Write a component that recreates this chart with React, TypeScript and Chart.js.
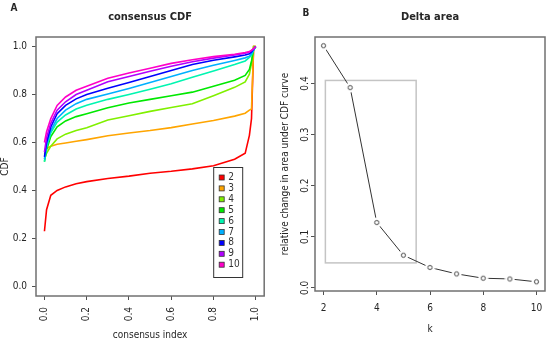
import React, { useEffect, useRef } from 'react';
import { Chart, registerables } from 'chart.js';

Chart.register(...registerables);

const FAMILY = "'Liberation Sans Narrow', 'DejaVu Sans Condensed', 'Liberation Sans', Arial, sans-serif";
const TEXT = '#262626';
const AXIS = '#505050';
const BOX = '#707070';

// ---------- Panel A: consensus CDF ----------
const cdfIndex = [0, 0.01, 0.03, 0.06, 0.1, 0.15, 0.2, 0.3, 0.4, 0.5, 0.6, 0.7, 0.8, 0.9, 0.95, 0.97, 0.98, 0.99, 1.0];
const cdfK2 = [0.23, 0.32, 0.38, 0.40, 0.415, 0.428, 0.437, 0.45, 0.46, 0.472, 0.48, 0.49, 0.503, 0.53, 0.555, 0.63, 0.70, 1.0, 1.0];
const cdfK3 = [0.55, 0.575, 0.585, 0.593, 0.598, 0.605, 0.612, 0.628, 0.64, 0.65, 0.662, 0.677, 0.692, 0.71, 0.722, 0.735, 0.74, 1.0, 1.0];
const cdfK4 = [0.53, 0.555, 0.585, 0.615, 0.635, 0.65, 0.662, 0.694, 0.712, 0.73, 0.746, 0.762, 0.795, 0.83, 0.853, 0.885, 0.93, 1.0, 1.0];
const cdfK5 = [0.52, 0.57, 0.625, 0.665, 0.69, 0.708, 0.72, 0.745, 0.765, 0.78, 0.795, 0.81, 0.835, 0.86, 0.88, 0.905, 0.94, 0.99, 1.0];
const cdfK6 = [0.52, 0.58, 0.64, 0.685, 0.715, 0.74, 0.755, 0.78, 0.80, 0.822, 0.845, 0.872, 0.898, 0.925, 0.94, 0.955, 0.965, 0.985, 1.0];
const cdfK7 = [0.53, 0.59, 0.65, 0.70, 0.735, 0.762, 0.78, 0.802, 0.825, 0.85, 0.875, 0.9, 0.922, 0.942, 0.953, 0.96, 0.97, 0.985, 1.0];
const cdfK8 = [0.54, 0.60, 0.665, 0.72, 0.755, 0.782, 0.80, 0.826, 0.85, 0.875, 0.9, 0.925, 0.943, 0.957, 0.965, 0.97, 0.978, 0.99, 1.0];
const cdfK9 = [0.56, 0.62, 0.68, 0.735, 0.77, 0.80, 0.818, 0.853, 0.875, 0.897, 0.918, 0.937, 0.952, 0.965, 0.972, 0.977, 0.983, 0.99, 1.0];
const cdfK10 = [0.60, 0.645, 0.70, 0.755, 0.79, 0.818, 0.835, 0.868, 0.89, 0.91, 0.93, 0.945, 0.958, 0.968, 0.975, 0.979, 0.985, 0.992, 1.0];
const cdfSeries = [cdfK2, cdfK3, cdfK4, cdfK5, cdfK6, cdfK7, cdfK8, cdfK9, cdfK10];
const clusterLabels = ['2', '3', '4', '5', '6', '7', '8', '9', '10'];
const clusterColors = ['#FF0000', '#FFA500', '#80F000', '#00E800', '#00F5B0', '#00B0FF', '#0000FF', '#B000FF', '#FF00C8'];
const cdfXTicks = [0, 0.2, 0.4, 0.6, 0.8, 1.0];
const cdfYTicks = [0, 0.2, 0.4, 0.6, 0.8, 1.0];

// ---------- Panel B: Delta area ----------
const deltaK = [2, 3, 4, 5, 6, 7, 8, 9, 10];
const deltaArea = [0.474, 0.392, 0.128, 0.064, 0.040, 0.0275, 0.019, 0.0176, 0.012];
const deltaXTicks = [2, 4, 6, 8, 10];
const deltaYTicks = [0, 0.1, 0.2, 0.3, 0.4];
const highlightBox = { kFrom: 2.07, kTo: 5.48, yFrom: 0.049, yTo: 0.406 };

const f = (size: number, bold = false) => `${bold ? 'bold ' : ''}${size}px ${FAMILY}`;

function makePointImage(): HTMLCanvasElement {
  const c = document.createElement('canvas');
  c.width = 11;
  c.height = 11;
  const g = c.getContext('2d')!;
  g.fillStyle = '#ffffff';
  g.beginPath();
  g.arc(5.5, 5.5, 5, 0, Math.PI * 2);
  g.fill();
  g.strokeStyle = '#333333';
  g.lineWidth = 0.9;
  g.beginPath();
  g.arc(5.5, 5.5, 2.1, 0, Math.PI * 2);
  g.stroke();
  return c;
}

const LeftPanel: React.FC = () => {
  const ref = useRef<HTMLCanvasElement>(null);
  useEffect(() => {
    if (!ref.current) return;
    const decor = {
      id: 'cdfDecor',
      afterDraw(chart: any) {
        const { ctx, chartArea: a } = chart;
        ctx.save();
        ctx.strokeStyle = BOX;
        ctx.lineWidth = 1.5;
        ctx.strokeRect(a.left, a.top, a.right - a.left, a.bottom - a.top);
        ctx.fillStyle = TEXT;
        ctx.textAlign = 'center';
        ctx.textBaseline = 'middle';
        ctx.font = f(11, true);
        ctx.fillText('consensus CDF', (a.left + a.right) / 2, 17);
        ctx.font = f(10, true);
        ctx.fillText('A', 14, 8);
        ctx.font = f(10);
        ctx.fillText('consensus index', (a.left + a.right) / 2, 335);
        ctx.save();
        ctx.translate(5, (a.top + a.bottom) / 2);
        ctx.rotate(-Math.PI / 2);
        ctx.fillText('CDF', 0, 0);
        ctx.restore();
        // legend
        const lx = a.right - 51;
        const ly = a.top + 130;
        const lw = 29;
        const lh = 110;
        ctx.fillStyle = '#ffffff';
        ctx.fillRect(lx, ly, lw, lh);
        ctx.strokeStyle = '#333333';
        ctx.lineWidth = 1;
        ctx.strokeRect(lx + 0.5, ly + 0.5, lw, lh);
        chart.data.datasets.forEach((ds: any, i: number) => {
          const cy = ly + 10.5 + i * 10.9;
          ctx.fillStyle = ds.borderColor;
          ctx.fillRect(lx + 6, cy - 2.5, 5, 5);
          ctx.strokeStyle = '#333333';
          ctx.lineWidth = 0.8;
          ctx.strokeRect(lx + 6, cy - 2.5, 5, 5);
          ctx.fillStyle = '#333333';
          ctx.textAlign = 'left';
          ctx.font = f(10);
          ctx.fillText(ds.label, lx + 15, cy);
        });
        ctx.restore();
      },
    };
    const chart = new Chart(ref.current, {
      type: 'line',
      data: {
        datasets: cdfSeries.map((s, i) => ({
          label: clusterLabels[i],
          data: cdfIndex.map((x, j) => ({ x, y: s[j] })),
          borderColor: clusterColors[i],
          backgroundColor: clusterColors[i],
          borderWidth: 1.6,
          pointRadius: 0,
          tension: 0,
          fill: false,
          order: cdfSeries.length - i,
        })),
      },
      options: {
        animation: false,
        responsive: false,
        maintainAspectRatio: false,
        layout: { padding: { top: 37, right: 7, left: 0, bottom: 0 } },
        plugins: { legend: { display: false }, tooltip: { enabled: false }, title: { display: false } },
        scales: {
          x: {
            type: 'linear',
            min: -0.04,
            max: 1.04,
            afterBuildTicks: (s: any) => { s.ticks = cdfXTicks.map((v) => ({ value: v })); },
            afterFit: (s: any) => { s.height = 46; },
            border: { display: false },
            grid: { drawOnChartArea: false, drawTicks: true, tickLength: 4, tickColor: AXIS, tickWidth: 1 },
            ticks: { minRotation: 90, maxRotation: 90, autoSkip: false, padding: 7, color: TEXT, font: { family: FAMILY, size: 10 }, callback: (v: any) => Number(v).toFixed(1) },
          },
          y: {
            type: 'linear',
            min: -0.04,
            max: 1.04,
            afterBuildTicks: (s: any) => { s.ticks = cdfYTicks.map((v) => ({ value: v })); },
            afterFit: (s: any) => { s.width = 36; },
            border: { display: false },
            grid: { drawOnChartArea: false, drawTicks: true, tickLength: 4, tickColor: AXIS, tickWidth: 1 },
            ticks: { autoSkip: false, padding: 5, color: TEXT, font: { family: FAMILY, size: 10 }, callback: (v: any) => Number(v).toFixed(1) },
          },
        },
      },
      plugins: [decor],
    } as any);
    return () => chart.destroy();
  }, []);
  return <canvas ref={ref} width={275} height={342} style={{ position: 'absolute', left: 0, top: 0, width: 275, height: 342 }} />;
};

const RightPanel: React.FC = () => {
  const ref = useRef<HTMLCanvasElement>(null);
  useEffect(() => {
    if (!ref.current) return;
    const pointImg = makePointImage();
    const decor = {
      id: 'deltaDecor',
      beforeDatasetsDraw(chart: any) {
        const { ctx, scales } = chart;
        const x0 = scales.x.getPixelForValue(highlightBox.kFrom);
        const x1 = scales.x.getPixelForValue(highlightBox.kTo);
        const y0 = scales.y.getPixelForValue(highlightBox.yTo);
        const y1 = scales.y.getPixelForValue(highlightBox.yFrom);
        ctx.save();
        ctx.strokeStyle = '#c4c4c4';
        ctx.lineWidth = 1.5;
        ctx.strokeRect(x0, y0, x1 - x0, y1 - y0);
        ctx.restore();
      },
      afterDraw(chart: any) {
        const { ctx, chartArea: a, scales } = chart;
        ctx.save();
        ctx.strokeStyle = BOX;
        ctx.lineWidth = 1.5;
        ctx.strokeRect(a.left, a.top, a.right - a.left, a.bottom - a.top);
        ctx.fillStyle = TEXT;
        ctx.textAlign = 'center';
        ctx.textBaseline = 'middle';
        ctx.font = f(11, true);
        ctx.fillText('Delta area', (a.left + a.right) / 2, 17);
        ctx.font = f(10, true);
        ctx.fillText('B', 31, 13);
        ctx.font = f(10);
        ctx.fillText('k', (a.left + a.right) / 2, 329);
        // rotated y tick labels
        deltaYTicks.forEach((v) => {
          const py = scales.y.getPixelForValue(v);
          ctx.save();
          ctx.translate(30, py);
          ctx.rotate(-Math.PI / 2);
          ctx.fillText(v.toFixed(1), 0, 0);
          ctx.restore();
        });
        ctx.save();
        ctx.translate(10, (a.top + a.bottom) / 2);
        ctx.rotate(-Math.PI / 2);
        ctx.fillText('relative change in area under CDF curve', 0, 0);
        ctx.restore();
        ctx.restore();
      },
    };
    const chart = new Chart(ref.current, {
      type: 'line',
      data: {
        datasets: [
          {
            label: 'Delta area',
            data: deltaK.map((k, i) => ({ x: k, y: deltaArea[i] })),
            borderColor: '#333333',
            borderWidth: 1,
            tension: 0,
            fill: false,
            pointStyle: pointImg,
            pointRadius: 3,
          },
        ],
      },
      options: {
        animation: false,
        responsive: false,
        maintainAspectRatio: false,
        layout: { padding: { top: 37, right: 3, left: 0, bottom: 0 } },
        plugins: { legend: { display: false }, tooltip: { enabled: false }, title: { display: false } },
        scales: {
          x: {
            type: 'linear',
            min: 1.68,
            max: 10.32,
            afterBuildTicks: (s: any) => { s.ticks = deltaXTicks.map((v) => ({ value: v })); },
            afterFit: (s: any) => { s.height = 51; },
            border: { display: false },
            grid: { drawOnChartArea: false, drawTicks: true, tickLength: 4, tickColor: AXIS, tickWidth: 1 },
            ticks: { autoSkip: false, maxRotation: 0, padding: 7, color: TEXT, font: { family: FAMILY, size: 10 }, callback: (v: any) => String(v) },
          },
          y: {
            type: 'linear',
            min: -0.006,
            max: 0.491,
            afterBuildTicks: (s: any) => { s.ticks = deltaYTicks.map((v) => ({ value: v })); },
            afterFit: (s: any) => { s.width = 40; },
            border: { display: false },
            grid: { drawOnChartArea: false, drawTicks: true, tickLength: 4, tickColor: AXIS, tickWidth: 1 },
            ticks: { display: false },
          },
        },
      },
      plugins: [decor],
    } as any);
    return () => chart.destroy();
  }, []);
  return <canvas ref={ref} width={275} height={342} style={{ position: 'absolute', left: 275, top: 0, width: 275, height: 342 }} />;
};

export default function App() {
  return (
    <div style={{ position: 'absolute', left: 0, top: 0, width: 550, height: 342, background: '#ffffff', overflow: 'hidden' }}>
      <LeftPanel />
      <RightPanel />
    </div>
  );
}
